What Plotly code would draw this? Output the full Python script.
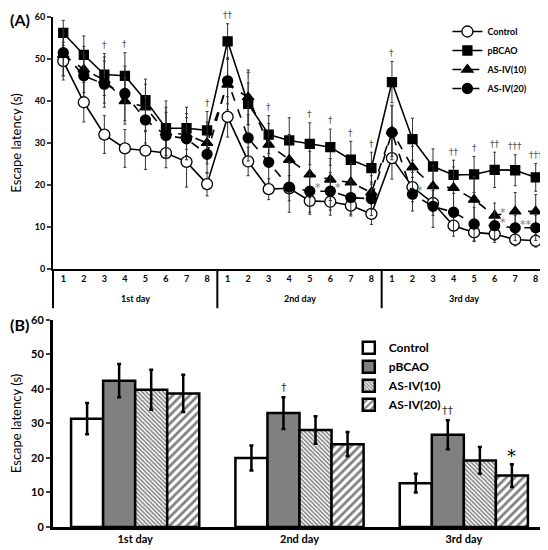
import plotly.graph_objects as go

# ---- panel A: escape latency per trial (8 trials x 3 days) ----
days = ["1st day", "2nd day", "3rd day"]
trials = [1, 2, 3, 4, 5, 6, 7, 8]
groups = ["Control", "pBCAO", "AS-IV(10)", "AS-IV(20)"]

control_mean = [49.5, 39.7, 32.0, 28.7, 28.2, 27.6, 25.5, 20.2,
                36.2, 25.6, 19.0, 19.2, 16.2, 16.0, 15.1, 13.1,
                26.4, 19.5, 15.7, 10.3, 8.7, 8.3, 7.0, 6.7]
control_err = [4.5, 4.7, 4.5, 4.5, 4.5, 3.5, 6.0, 2.8,
               4.8, 3.4, 2.5, 3.0, 3.2, 3.2, 2.5, 2.5,
               5.0, 3.5, 3.0, 2.5, 2.2, 2.0, 1.5, 1.5]
pbcao_mean = [56.2, 51.0, 46.3, 46.0, 40.2, 33.5, 33.5, 33.0,
              54.2, 39.3, 32.0, 30.6, 29.8, 29.0, 26.0, 24.0,
              44.5, 30.9, 24.4, 22.4, 22.5, 23.6, 23.5, 21.8]
pbcao_err = [3.0, 4.5, 5.0, 5.5, 5.0, 6.5, 5.0, 4.5,
             4.2, 5.0, 4.5, 5.4, 5.0, 4.3, 4.4, 3.8,
             4.9, 5.0, 4.2, 3.5, 4.3, 4.2, 3.7, 3.3]
as10_mean = [51.0, 47.5, 45.0, 40.0, 38.5, 32.5, 32.0, 30.0,
             43.9, 40.9, 29.6, 26.0, 22.5, 21.3, 20.6, 18.2,
             32.8, 24.2, 19.7, 19.3, 16.5, 12.7, 13.7, 13.7]
as10_err = [5.0, 5.5, 5.5, 5.5, 5.5, 6.0, 5.0, 5.0,
            6.0, 6.5, 5.0, 6.0, 5.5, 5.0, 4.5, 4.0,
            6.0, 5.0, 5.0, 5.0, 5.5, 3.0, 4.5, 4.0]
as20_mean = [51.5, 46.0, 44.0, 41.8, 35.5, 31.8, 31.0, 27.3,
             44.8, 31.2, 25.4, 19.5, 18.5, 18.5, 17.0, 16.7,
             32.5, 17.8, 14.9, 13.5, 10.7, 10.3, 9.8, 9.8]
as20_err = [5.5, 5.0, 5.5, 6.5, 5.5, 5.5, 5.0, 4.5,
            5.5, 5.5, 5.0, 6.0, 5.0, 4.5, 4.0, 4.0,
            6.5, 4.0, 5.0, 4.5, 4.0, 3.5, 3.0, 3.0]

# significance marks vs control (index into the 24 trials)
dagger_idx = [2, 3, 7, 8, 9, 10, 12, 13, 14, 15, 16, 19, 20, 21, 22, 23]
dagger_txt = ["†", "†", "†", "††", "†", "†", "†", "†", "†", "†",
              "†", "††", "†", "††", "†††", "†††"]
# asterisks vs pBCAO: (index, series, text)
star_marks = [(12, "as20", "*"), (13, "as20", "*"), (17, "as20", "*"),
              (21, "as10", "*"), (21, "as20", "*"), (22, "as20", "**"),
              (23, "as20", "*")]

# ---- panel B: mean per day ----
bar_mean = {
    "Control": [31.4, 20.0, 12.7],
    "pBCAO": [42.4, 33.0, 26.7],
    "AS-IV(10)": [39.8, 28.1, 19.3],
    "AS-IV(20)": [38.7, 24.0, 14.9],
}
bar_err = {
    "Control": [4.5, 3.6, 2.7],
    "pBCAO": [4.8, 4.6, 4.2],
    "AS-IV(10)": [5.8, 4.0, 3.9],
    "AS-IV(20)": [5.4, 3.5, 3.3],
}

FONT = "Lato"
MARK_FONT = "DejaVu Sans"
x_top = [d * 8 + t for d in range(3) for t in trials]

fig = go.Figure()

styles = [
    ("Control", control_mean, control_err, "circle", "white", 11, "solid"),
    ("pBCAO", pbcao_mean, pbcao_err, "square", "black", 9, "solid"),
    ("AS-IV(10)", as10_mean, as10_err, "triangle-up", "black", 10, "dash"),
    ("AS-IV(20)", as20_mean, as20_err, "circle", "black", 10, "dash"),
]
for name, m, e, sym, fill, sz, dash in styles:
    fig.add_trace(go.Scatter(
        x=x_top, y=m, name=name, mode="lines+markers",
        line=dict(color="black", width=1.6, dash=dash),
        marker=dict(symbol=sym, size=sz, color=fill,
                    line=dict(color="black", width=1.3)),
        error_y=dict(type="data", array=e, color="#333",
                     thickness=1, width=1.5),
        xaxis="x", yaxis="y", legend="legend",
    ))

bar_fill = {
    "Control": dict(color="white"),
    "pBCAO": dict(color="#808080"),
    "AS-IV(10)": dict(color="white", pattern=dict(
        shape="\\", size=3, solidity=0.5, fgcolor="black", bgcolor="white")),
    "AS-IV(20)": dict(color="white", pattern=dict(
        shape="/", size=6, solidity=0.45, fgcolor="black", bgcolor="white")),
}
for g in groups:
    fig.add_trace(go.Bar(
        x=days, y=bar_mean[g], name=g,
        marker=dict(line=dict(color="black", width=2.5), **bar_fill[g]),
        error_y=dict(type="data", array=bar_err[g], color="black",
                     thickness=2.5, width=2),
        xaxis="x2", yaxis="y2", legend="legend2",
    ))

ann = []
for i, t in zip(dagger_idx, dagger_txt):
    ann.append(dict(x=x_top[i], y=pbcao_mean[i] + pbcao_err[i] + 0.4,
                    text=t, showarrow=False, yanchor="bottom", xref="x", yref="y",
                    font=dict(family=MARK_FONT, size=9, color="#555")))
ser = {"as10": as10_mean, "as20": as20_mean}
for i, s, t in star_marks:
    ann.append(dict(x=x_top[i], y=ser[s][i] + 0.8, text=t, showarrow=False,
                    xanchor="left", xshift=3, xref="x", yref="y",
                    font=dict(family=MARK_FONT, size=11, color="#777")))
for k, d in enumerate(days):
    ann.append(dict(x=k * 8 + 4.5, y=0.449, xref="x", yref="paper", text=d,
                    showarrow=False, font=dict(size=9, color="black", weight="bold")))
# panel B marks
ann.append(dict(x=days[1], y=bar_mean["pBCAO"][1] + bar_err["pBCAO"][1] + 0.3,
                xref="x2", yref="y2", xshift=-16, yanchor="bottom", text="†",
                showarrow=False, font=dict(family=MARK_FONT, size=11, color="#333")))
ann.append(dict(x=days[2], y=bar_mean["pBCAO"][2] + bar_err["pBCAO"][2] + 0.3,
                xref="x2", yref="y2", xshift=-16, yanchor="bottom", text="††",
                showarrow=False, font=dict(family=MARK_FONT, size=11, color="#333")))
ann.append(dict(x=days[2], y=bar_mean["AS-IV(20)"][2] + bar_err["AS-IV(20)"][2] - 1.0,
                xref="x2", yref="y2", xshift=48, yanchor="bottom", text="*",
                showarrow=False, font=dict(family=MARK_FONT, size=18, color="black")))
ann.append(dict(x=-0.0913, y=1.0176, xref="paper", yref="paper", text="(A)",
                showarrow=False, xanchor="left", yanchor="top",
                font=dict(size=16, color="black", weight="bold")))
ann.append(dict(x=-0.0913, y=0.397, xref="paper", yref="paper", text="(B)",
                showarrow=False, xanchor="left",
                font=dict(size=16, color="black", weight="bold")))

shapes = [dict(type="line", xref="x domain", yref="paper", x0=f, x1=f,
               y0=0.506, y1=0.429, line=dict(color="black", width=2))
          for f in [0, 1 / 3, 2 / 3, 1]]

tick_font = dict(size=9, color="black", weight="bold")
fig.update_layout(
    width=540, height=542,
    paper_bgcolor="white", plot_bgcolor="white",
    margin=dict(l=45, r=2, t=9, b=23),
    font=dict(family=FONT, color="black"),
    barmode="group", bargap=0.22, bargroupgap=0,
    annotations=ann, shapes=shapes,
    xaxis=dict(domain=[0, 1], anchor="y", range=[0.5, 24.5],
               tickvals=x_top, ticktext=[str(t) for t in trials] * 3,
               showline=True, linecolor="black", linewidth=2, ticks="",
               showgrid=False, zeroline=False, tickfont=tick_font),
    yaxis=dict(domain=[0.506, 1], anchor="x", range=[0, 60], dtick=10,
               showline=True, linecolor="black", linewidth=2,
               ticks="outside", ticklen=4, tickwidth=1.5, showgrid=False,
               zeroline=False, tickfont=tick_font,
               title=dict(text="Escape latency (s)", standoff=12,
                          font=dict(size=13, color="black"))),
    xaxis2=dict(domain=[0, 1], anchor="y2", showline=True, linecolor="black",
                linewidth=3, ticks="", showgrid=False,
                tickfont=dict(size=11, color="black", weight="bold")),
    yaxis2=dict(domain=[0, 0.406], anchor="x2", range=[0, 60], dtick=10,
                showline=True, linecolor="black", linewidth=3,
                ticks="outside", ticklen=4, tickwidth=2, showgrid=False,
                zeroline=False, tickfont=dict(size=11, color="black", weight="bold"),
                title=dict(text="Escape latency (s)", standoff=8,
                           font=dict(size=13, color="black"))),
    legend=dict(x=0.80, y=1.0, xanchor="left", yanchor="top",
                bgcolor="rgba(0,0,0,0)", tracegroupgap=0, itemwidth=30,
                font=dict(size=9, color="black", weight="bold")),
    legend2=dict(x=0.60, y=0.38, xanchor="left", yanchor="top",
                 bgcolor="rgba(0,0,0,0)", itemwidth=30,
                 font=dict(size=12, color="black", weight="bold")),
)

fig.write_html("out.html")
